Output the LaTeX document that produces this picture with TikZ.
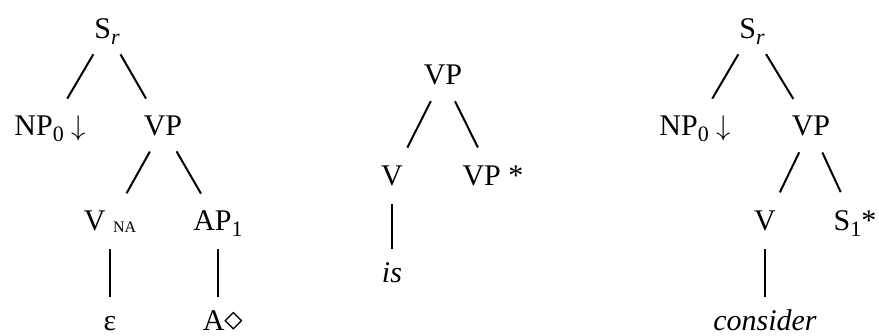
\documentclass[tikz,border=0pt]{standalone}
\usepackage{fontspec}
\setmainfont{Liberation Serif}
\usepackage{graphicx}
\usepackage{tikz}
\newcommand{\sbs}[1]{\raisebox{-.22em}{\fontsize{22}{22}\selectfont #1}}
\newcommand{\na}{\raisebox{-.08em}{\fontsize{16}{16}\selectfont NA}}
\tikzset{cat/.style={inner sep=0pt,text height=20pt,text depth=6pt,anchor=base,font=\fontsize{30}{34}\selectfont},branch/.style={line width=2pt,shorten <=27pt,shorten >=34pt},stem/.style={line width=2pt,shorten <=26pt,shorten >=26pt}}
\begin{document}
\begin{tikzpicture}[x=1pt,y=-1pt]
\path[use as bounding box] (0,0) rectangle (879,335);
% left tree
\node[cat] (lsr) at (107,38) {S\sbs{\itshape r}};\node[cat] (lnp) at (50,135) {NP\sbs{0} \scalebox{1.15}{$\downarrow$}};\node[cat] (lvp) at (163,135) {VP};
\node[cat] (lv) at (110,230) {V \na};\node[cat] (lap) at (218,230) {AP\sbs{1}};
\node[cat] (leps) at (110,330) {ε};\node[cat] (la) at (223,330) {A\scalebox{1.5}{$\diamond$}};
% middle tree
\node[cat] (mvp) at (443,84) {VP};\node[cat] (mv) at (392,185) {V};\node[cat] (mfoot) at (493,185) {VP *};\node[cat] (mis) at (392,282) {\itshape is};
% right tree
\node[cat] (rsr) at (752,38) {S\sbs{\itshape r}};\node[cat] (rnp) at (695,135) {NP\sbs{0} \scalebox{1.15}{$\downarrow$}};\node[cat] (rvp) at (811,135) {VP};
\node[cat] (rv) at (765,230) {V};\node[cat] (rfoot) at (855,230) {S\sbs{1}*};\node[cat] (rcons) at (765,330) {\itshape consider};
\foreach \a/\b in {lsr/lnp,lsr/lvp,lvp/lv,lvp/lap,mvp/mv,mvp/mfoot,rsr/rnp,rsr/rvp,rvp/rv,rvp/rfoot}{\draw[branch] (\a.center)--(\b.center);}
\foreach \a/\b in {lv/leps,lap/la,mv/mis,rv/rcons}{\draw[stem] (\a.center)--(\a.center|-\b.center);}
\end{tikzpicture}
\end{document}
